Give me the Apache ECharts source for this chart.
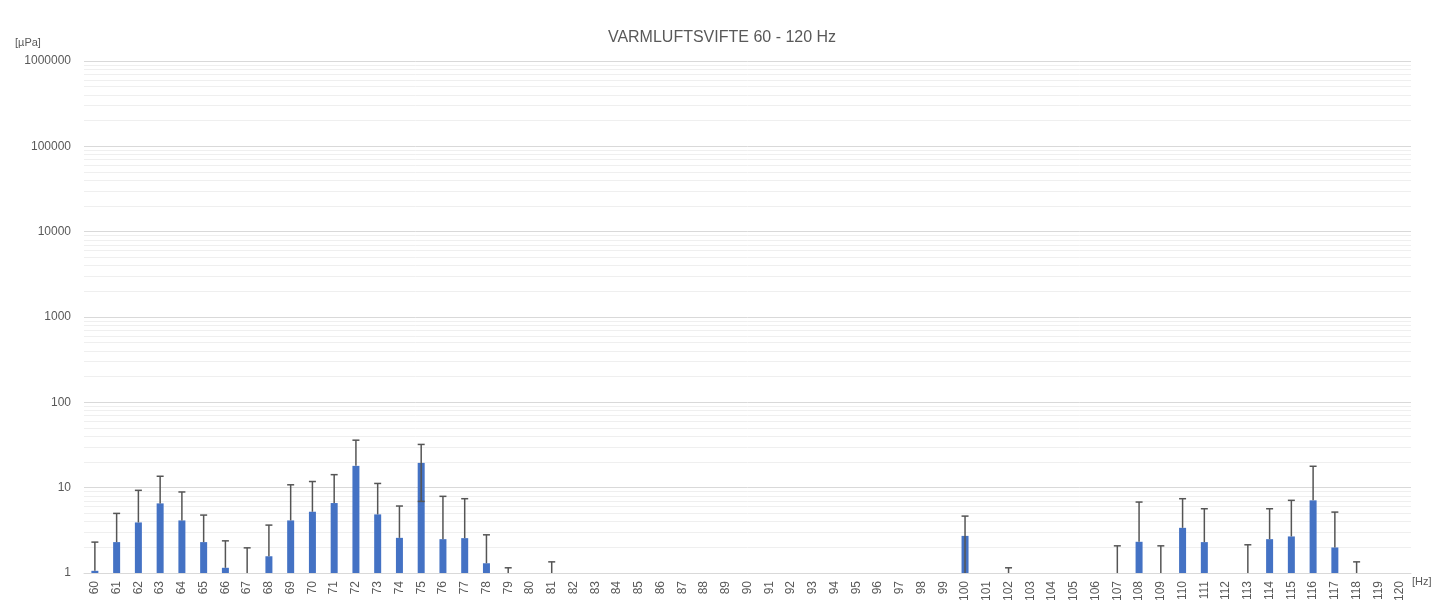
<!DOCTYPE html>
<html>
<head>
<meta charset="utf-8">
<script src="https://cdn.jsdelivr.net/npm/echarts@6/dist/echarts.min.js"></script>
<style>
  html, body { margin: 0; padding: 0; background: #fff; }
  #chart { width: 1453px; height: 604px; }
</style>
</head>
<body>
<div id="chart"></div>
<script>
// frequencies 60 - 120 Hz
const freqs = []
for (let f = 60; f <= 120; f++) freqs.push(String(f))

// bar values [µPa], null = no bar
const levels = [
  1.06, 2.30, 3.91, 6.54, 4.13, 2.30, 1.15, 1, 1.57, 4.13,
  5.22, 6.6, 18.0, 4.86, 2.58, 19.5, 2.49, 2.56, 1.30, 1,
  null, 1, null, null, null, null, null, null, null, null,
  null, null, null, null, null, null, null, null, null, null,
  2.72, null, 1, null, null, null, null, 1, 2.32, 1,
  3.38, 2.30, null, 1, 2.49, 2.68, 7.10, 1.99, 1, null,
  null,
]

// error (+/-) for each bar
const errors = [
  1.24, 2.69, 5.39, 7.06, 4.77, 2.47, 1.23, 0.97, 2.07, 6.67,
  6.58, 7.6, 18.0, 6.34, 3.51, 12.6, 5.42, 4.86, 1.50, 0.15,
  null, 0.35, null, null, null, null, null, null, null, null,
  null, null, null, null, null, null, null, null, null, null,
  1.92, null, 0.15, null, null, null, null, 1.08, 4.46, 1.08,
  4.04, 3.36, null, 1.14, 3.17, 4.42, 10.7, 3.18, 0.35, null,
  null,
]

const yTicks = [1, 10, 100, 1000, 10000, 100000, 1000000]

// minor grid lines at 2..9 of each decade
const minorLines = []
for (let d = 1; d < 1000000; d *= 10) {
  for (let k = 2; k <= 9; k++) minorLines.push({ yAxis: d * k })
}

const errData = levels.map((v, i) => (v == null ? [i, null, null] : [i, v, errors[i]]))

const textColor = '#595959'
const font = '"Liberation Sans", Arial, sans-serif'

const myChart = echarts.init(document.getElementById('chart'))
myChart.setOption({
  animation: false,
  graphic: [
    {
      type: 'text',
      x: 722,
      y: 38,
      style: {
        text: 'VARMLUFTSVIFTE 60 - 120 Hz',
        fill: textColor,
        font: '16px ' + font,
        align: 'center',
        verticalAlign: 'middle',
      },
    },
    {
      type: 'text',
      x: 15,
      y: 37,
      style: { text: '[µPa]', fill: textColor, font: '11px ' + font },
    },
    {
      type: 'text',
      x: 1412,
      y: 576,
      style: { text: '[Hz]', fill: textColor, font: '11px ' + font },
    },
  ],
  grid: {
    left: 84,
    right: 42,
    top: 61,
    bottom: 30,
  },
  xAxis: {
    type: 'category',
    data: freqs,
    axisTick: { show: false },
    axisLine: { lineStyle: { color: '#d9d9d9', width: 1 } },
    axisLabel: {
      interval: 0,
      rotate: 90,
      margin: 8,
      fontSize: 12,
      color: textColor,
      fontFamily: font,
    },
  },
  yAxis: {
    type: 'log',
    logBase: 10,
    min: 1,
    max: 1000000,
    axisLine: { show: false },
    axisTick: { show: false },
    axisLabel: {
      margin: 13,
      fontSize: 12,
      color: textColor,
      fontFamily: font,
      formatter: v => (yTicks.includes(Math.round(v)) ? String(Math.round(v)) : ''),
    },
    splitLine: { lineStyle: { color: '#d9d9d9', width: 1 } },
  },
  series: [
    {
      type: 'line',
      data: [],
      z: 1,
      silent: true,
      markLine: {
        z: 1,
        silent: true,
        symbol: ['none', 'none'],
        label: { show: false },
        lineStyle: { color: '#efefef', width: 1, type: 'solid' },
        emphasis: { disabled: true },
        data: minorLines,
      },
    },
    {
      name: 'level',
      type: 'bar',
      z: 2,
      barWidth: 7,
      itemStyle: { color: '#4472c4' },
      data: levels,
    },
    {
      name: 'error',
      type: 'custom',
      z: 3,
      data: errData,
      renderItem: (params, api) => {
        const v = api.value(1)
        const e = api.value(2)
        if (v == null || isNaN(v) || e == null || isNaN(e)) return
        const i = api.value(0)
        const top = api.coord([i, v + e])
        const mid = api.coord([i, v])
        const rect = params.coordSys
        const bottomY = rect.y + rect.height
        const lo = v - e
        let lowY = mid[1]
        let lowCap = false
        if (lo > 0) {
          if (lo >= 1) {
            lowY = api.coord([i, lo])[1]
            lowCap = true
          } else {
            lowY = bottomY
          }
        }
        const x = top[0]
        const style = { stroke: '#555555', lineWidth: 1.5 }
        const children = [
          { type: 'line', shape: { x1: x, y1: top[1], x2: x, y2: lowY }, style },
          { type: 'line', shape: { x1: x - 3.5, y1: top[1], x2: x + 3.5, y2: top[1] }, style },
        ]
        if (lowCap) {
          children.push({ type: 'line', shape: { x1: x - 3.5, y1: lowY, x2: x + 3.5, y2: lowY }, style })
        }
        return { type: 'group', children }
      },
    },
  ],
})
</script>
</body>
</html>
